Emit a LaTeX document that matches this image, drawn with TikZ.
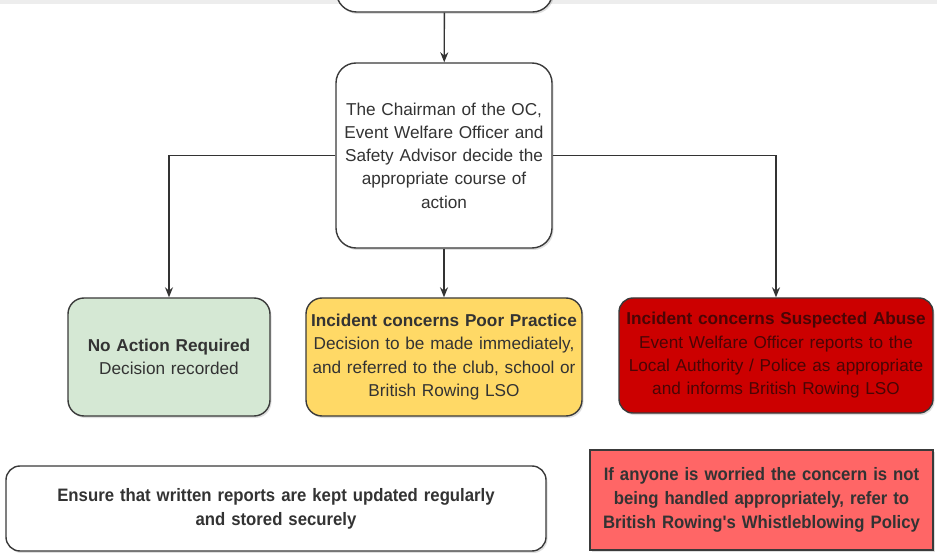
\documentclass[tikz,border=0pt]{standalone}
\usepackage{fontspec}
\setmainfont{Liberation Sans}
\newfontfamily\narrowfont{Liberation Sans}[FakeStretch=0.93]
\usepackage{tikz}
\usetikzlibrary{arrows.meta}
\usetikzlibrary{shadows}
\definecolor{boxline}{HTML}{3A3A3A}
\definecolor{nofill}{HTML}{D5E8D4}
\definecolor{poorfill}{HTML}{FFD966}
\definecolor{abusefill}{HTML}{CC0000}
\definecolor{abusetext}{HTML}{4A0505}
\definecolor{whistlefill}{HTML}{FF6666}

\tikzset{
	flowbox/.style={draw=boxline, line width=1.4pt, rounded corners=20pt, align=center,
		inner sep=0pt, font=\fontsize{17.2}{23.3}\selectfont, text=black!80,
		drop shadow={shadow xshift=1.5pt, shadow yshift=-2pt, opacity=0.25}},
	notefont/.style={font=\narrowfont\bfseries\fontsize{18}{24}\selectfont},
	arr/.style={draw=black!80, line width=1.3pt, -{Stealth[length=10pt,width=8pt]}}
}

\begin{document}
\begin{tikzpicture}[x=1pt,y=-1pt]
	\useasboundingbox (0,0) rectangle (937,553);
	\clip (0,0) rectangle (937,553);
	\fill[black!7] (0,0) rectangle (937,4);
	% top of chart, cut off
	\node[flowbox, fill=white, minimum width=216pt, minimum height=80pt] (prev) at (444.5,-28) {};
	\node[flowbox, fill=white, minimum width=216pt, minimum height=185pt, text width=210pt] (chair) at (444,155.5)
		{The Chairman of the OC,\\ Event Welfare Officer and\\ Safety Advisor decide the\\ appropriate course of\\ action};
	% outcomes
	\node[flowbox, fill=nofill, minimum width=202pt, minimum height=118pt, text width=196pt, rounded corners=16pt] (none) at (169,357)
		{\textbf{No Action Required}\\ Decision recorded};
	\node[flowbox, fill=poorfill, minimum width=276pt, minimum height=118pt, text width=272pt, rounded corners=16pt] (poor) at (444,357)
		{\textbf{Incident concerns Poor Practice}\\ Decision to be made immediately,\\ and referred to the club, school or\\ British Rowing LSO};
	\node[flowbox, fill=abusefill, text=abusetext, minimum width=314pt, minimum height=115pt, text width=310pt, rounded corners=14pt] (abuse) at (776,355.5)
		{\textbf{Incident concerns Suspected Abuse}\\ Event Welfare Officer reports to the\\ Local Authority / Police as appropriate\\ and informs British Rowing LSO};
	% notes
	\node[flowbox, notefont, fill=white, minimum width=540pt, minimum height=85pt, text width=530pt, rounded corners=14pt] (ensure) at (276,508.5)
		{Ensure that written reports are kept updated regularly\\ and stored securely};
	\node[flowbox, notefont, fill=whistlefill, rounded corners=0pt, minimum width=343pt, minimum height=100pt, text width=338pt] (whistle) at (761.5,500)
		{If anyone is worried the concern is not\\ being handled appropriately, refer to\\ British Rowing's Whistleblowing Policy};
	% connectors
	\draw[arr] (prev) -- (chair);
	\draw[arr] (chair.west) -| (none.north);
	\draw[arr] (chair) -- (poor);
	\draw[arr] (chair.east) -| (abuse.north);
\end{tikzpicture}
\end{document}
